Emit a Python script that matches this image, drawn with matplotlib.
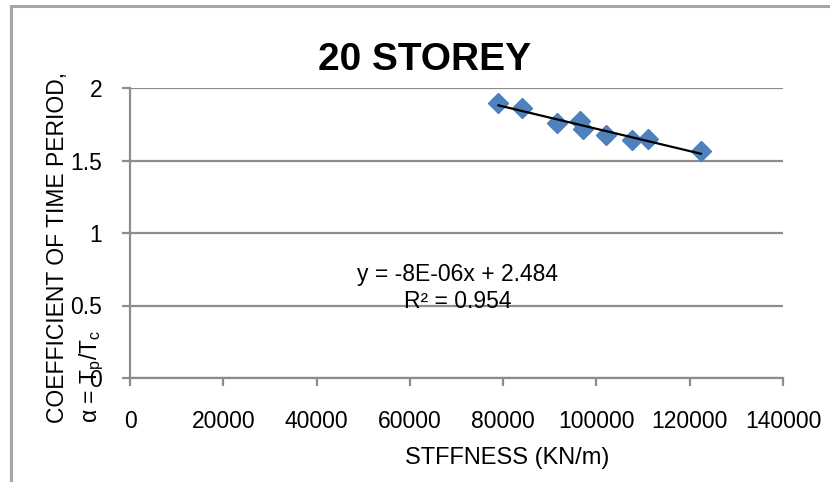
import numpy as np
import matplotlib
matplotlib.use("Agg")
import matplotlib.pyplot as plt
from matplotlib.patches import Rectangle

# ---- data ----
stiffness = [79000, 84000, 91600, 96500, 97200, 102000, 107600, 111100, 122400]
alpha = [1.894, 1.860, 1.761, 1.774, 1.715, 1.676, 1.641, 1.646, 1.568]
x_ticks = [0, 20000, 40000, 60000, 80000, 100000, 120000, 140000]
y_ticks = [0, 0.5, 1, 1.5, 2]
title = "20 STOREY"
x_label = "STFFNESS (KN/m)"
y_label = "COEFFICIENT OF TIME PERIOD,\nα = T$_{\\mathregular{p}}$/T$_{\\mathregular{c}}$"
eq_text = "y = -8E-06x + 2.484\nR² = 0.954"

FONT = ["Liberation Sans", "DejaVu Sans"]
plt.rcParams["font.family"] = FONT
plt.rcParams["mathtext.fontset"] = "custom"
plt.rcParams["mathtext.rm"] = "Liberation Sans"
plt.rcParams["mathtext.it"] = "Liberation Sans"

W, H = 830, 482
fig = plt.figure(figsize=(W / 100, H / 100), dpi=100)
fig.patch.set_facecolor("white")

# outer chart border (extends past the right and bottom edges)
fig.patches.append(Rectangle((11 / W, -0.2), 1.2, 1.2 - 6 / H, transform=fig.transFigure,
                             fill=False, edgecolor="#a6a6a6", linewidth=2.2))

left, right, top, bottom = 130, 783, 88, 378
ax = fig.add_axes([left / W, 1 - bottom / H, (right - left) / W, (bottom - top) / H])

grid_color = "#8c8c8c"
ax.set_xlim(0, 140000)
ax.set_ylim(0, 2)
ax.set_xticks(x_ticks)
ax.set_xticklabels([str(v) for v in x_ticks])
ax.set_yticks(y_ticks)
ax.set_yticklabels([f"{v:g}" for v in y_ticks])
ax.yaxis.grid(True, color=grid_color, linewidth=1.6)
ax.set_axisbelow(True)
for s in ["top", "right"]:
    ax.spines[s].set_visible(False)
for s in ["left", "bottom"]:
    ax.spines[s].set_color(grid_color)
    ax.spines[s].set_linewidth(1.6)
ax.tick_params(axis="x", direction="out", length=6, width=1.6, color=grid_color,
               labelsize=16.5, pad=17)
ax.tick_params(axis="y", direction="out", length=6, width=1.6, color=grid_color,
               labelsize=16.5, pad=14)

ax.plot(stiffness, alpha, linestyle="none", marker="D", markersize=10,
        markerfacecolor="#4f81bd", markeredgecolor="#4a7ebb", zorder=3)

coef = np.polyfit(stiffness, alpha, 1)
xs = np.array([min(stiffness), max(stiffness)])
ax.plot(xs, np.polyval(coef, xs), color="black", linewidth=1.6, zorder=4)

ax.text(0.502, 0.31, eq_text, transform=ax.transAxes, ha="center", va="center",
        multialignment="center", fontsize=16.5, linespacing=1.2)

fig.text(425 / W, 1 - 70 / H, title, ha="center", va="baseline",
         fontsize=28, fontweight="bold")
fig.text(507 / W, 1 - 464 / H, x_label, ha="center", va="baseline", fontsize=17)
fig.text(76 / W, 1 - 423 / H, y_label, rotation=90, ha="center", va="bottom",
         multialignment="left", fontsize=16.5, linespacing=1.45)

fig.savefig("out.png", dpi=100)
